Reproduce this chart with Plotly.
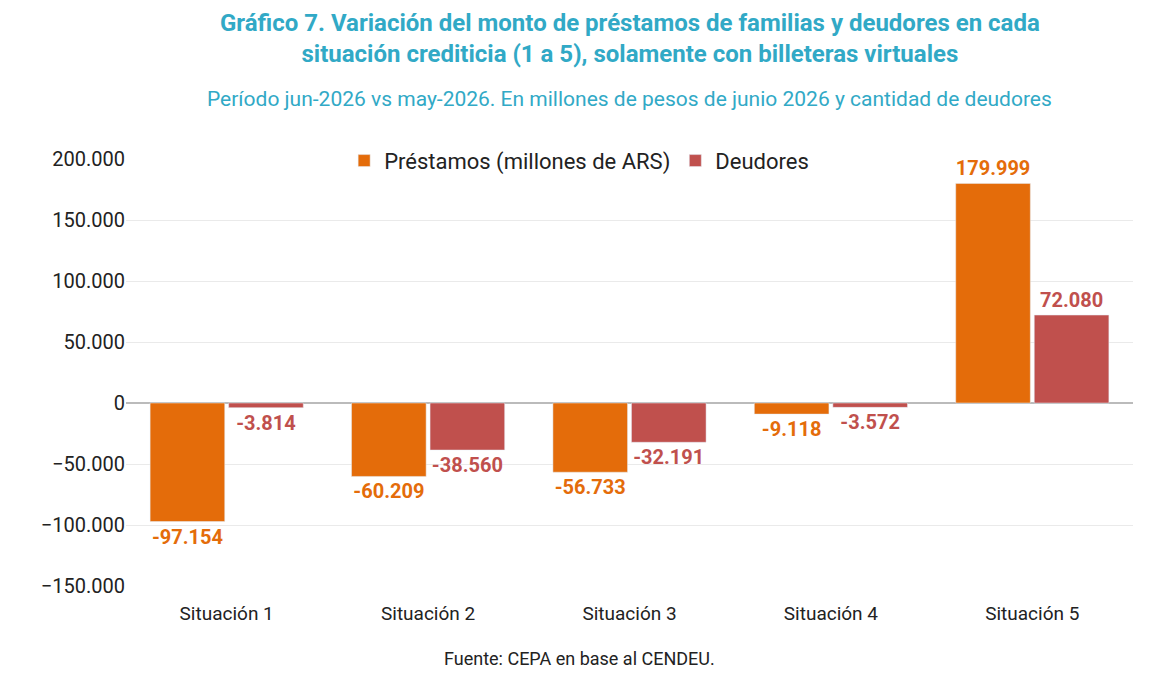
import plotly.graph_objects as go

categorias = ["Situación 1", "Situación 2", "Situación 3", "Situación 4", "Situación 5"]
prestamos = [-97154, -60209, -56733, -9118, 179999]
deudores = [-3814, -38560, -32191, -3572, 72080]
tick_vals = [-150000, -100000, -50000, 0, 50000, 100000, 150000, 200000]

naranja = "#E46C0A"
rojo = "#C0504D"
teal = "#31A9C6"

fig = go.Figure()
fig.add_trace(go.Bar(
    x=categorias, y=prestamos, name="Préstamos (millones de ARS)",
    marker_color=naranja, texttemplate="%{y:,.0f}", textposition="outside",
    textfont=dict(color=naranja, size=20, family="Roboto", weight="bold"),
    cliponaxis=False,
))
fig.add_trace(go.Bar(
    x=categorias, y=deudores, name="Deudores",
    marker_color=rojo, texttemplate="%{y:,.0f}", textposition="outside",
    textfont=dict(color=rojo, size=20, family="Roboto", weight="bold"),
    cliponaxis=False,
))

fig.update_layout(
    width=1155, height=686,
    separators=",.",
    font=dict(family="Roboto", size=18, color="#222"),
    plot_bgcolor="white", paper_bgcolor="white",
    barmode="group", bargap=0.22, bargroupgap=0.05,
    margin=dict(l=118, r=30, t=151, b=108),
    showlegend=True,
    legend=dict(orientation="h", x=0.45, y=1.045, xanchor="center", yanchor="top",
                font=dict(size=22), bgcolor="rgba(0,0,0,0)"),
    annotations=[
        dict(text="<b>Gráfico 7. Variación del monto de préstamos de familias y deudores en cada<br>situación crediticia (1 a 5), solamente con billeteras virtuales</b>",
             x=0.5, y=1.0, xref="paper", yref="paper", yanchor="top", xanchor="center",
             showarrow=False, font=dict(size=24, color=teal), yshift=152),
        dict(text="Período jun-2026 vs may-2026. En millones de pesos de junio 2026 y cantidad de deudores",
             x=0.5, y=1.0, xref="paper", yref="paper", yanchor="top", xanchor="center",
             showarrow=False, font=dict(size=21, color=teal), yshift=74),
        dict(text="Fuente: CEPA en base al CENDEU.", x=0.45, y=0, xref="paper", yref="paper",
             yanchor="top", xanchor="center", showarrow=False, font=dict(size=18), yshift=-60),
    ],
)
fig.update_yaxes(range=[-150000, 200000], tickvals=tick_vals, tickformat=",.0f",
                 gridcolor="#EAEAEA", zeroline=True, zerolinecolor="#BBBBBB", zerolinewidth=1.5,
                 tickfont=dict(size=20), ticks="", ticklen=0)
fig.update_xaxes(tickfont=dict(size=19), showline=False, ticklabelstandoff=14)

fig.write_html("out.html")
